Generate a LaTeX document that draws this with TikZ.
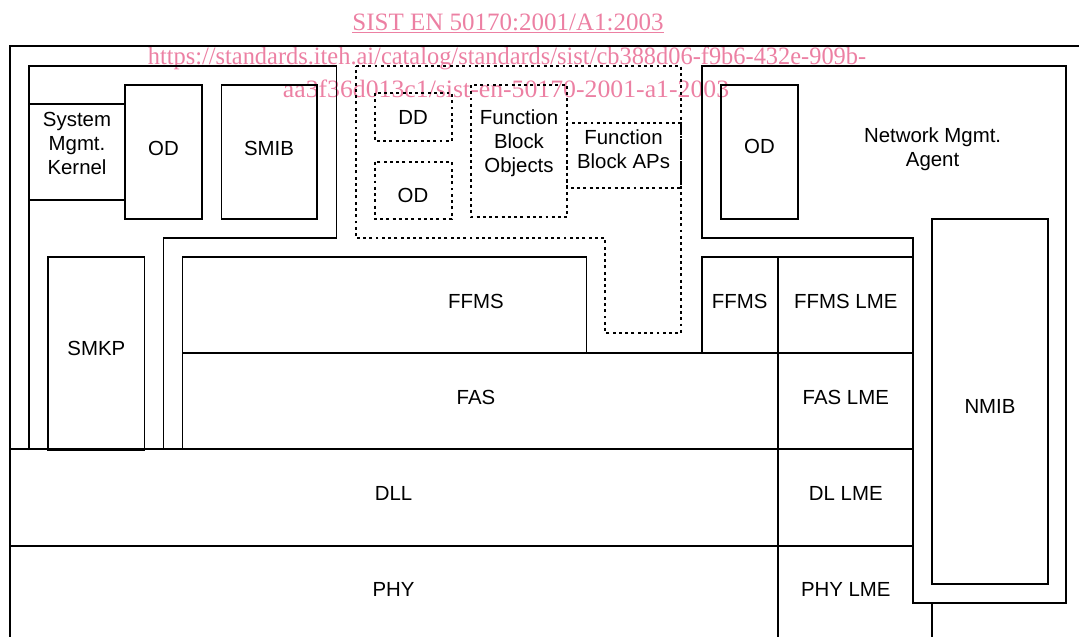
\documentclass[tikz,border=0pt]{standalone}
\usepackage{fontspec}
\setmainfont{Liberation Sans}
\newfontfamily\wmfont{Liberation Serif}
\definecolor{wmpink}{RGB}{236,128,163}
\begin{document}
\begin{tikzpicture}[x=0.75pt,y=-0.75pt,
  ln/.style={draw=black,line width=1.3pt},
  dl/.style={draw=black,line width=1.5pt,dash pattern=on 2.2pt off 2.5pt},
  lbl/.style={font=\fontsize{15.3}{18}\selectfont,inner sep=0pt,align=center},
  wm/.style={font=\wmfont\fontsize{18.75}{22}\selectfont,text=wmpink,inner sep=0pt,anchor=base}]
\useasboundingbox (0,0) rectangle (1079,636);
\clip (0,0) rectangle (1079,636);

% watermark
\node[wm] (w1) at (508,30) {SIST EN 50170:2001/A1:2003};
\draw[wmpink,line width=0.8pt] ([yshift=-1.6pt]w1.base west) -- ([yshift=-1.6pt]w1.base east);
\node[wm,xscale=0.976] (w2) at (507,64) {https://standards.iteh.ai/catalog/standards/sist/cb388d06-f9b6-432e-909b-};
\node[wm,xscale=1.03] (w3) at (506,97) {aa3f36d013c1/sist-en-50170-2001-a1-2003};

% outer frame
\draw[ln] (10,700) -- (10,45.7) -- (1100,45.7);

% system management
\draw[ln] (29,450) -- (29,66) -- (336.5,66) -- (336.5,238) -- (163.6,238) -- (163.6,450);
\draw[ln] (29,104) rectangle (125,200);
\draw[ln] (125,85) rectangle (202,219);
\draw[ln] (221.4,85) rectangle (317,219);
\draw[ln] (48.2,257.3) rectangle (144.6,450);

% function block application (dotted)
\draw[dl] (355.7,66) -- (681,66) -- (681,333.3) -- (605.4,333.3) -- (605.4,238.3) -- (355.7,238.3) -- cycle;
\draw[dl] (374.7,93) rectangle (451.8,141);
\draw[dl] (374.7,161.7) rectangle (451.8,219);
\draw[dl] (470.7,85) rectangle (567.4,217);
\draw[dl] (567.4,122.5) rectangle (681,188);

% stack
\draw[ln] (182.5,257.3) rectangle (586.5,353.3);
\draw[ln] (182.5,353.3) rectangle (778.3,449.3);
\draw[ln] (10,449.3) rectangle (778.3,545.7);
\draw[ln] (10,545.7) rectangle (778.3,700);
\draw[ln] (701.8,257.3) rectangle (778.3,353.3);
\draw[ln] (778.3,257.3) rectangle (912.9,353.3);
\draw[ln] (778.3,353.3) rectangle (912.9,449.3);
\draw[ln] (778.3,449.3) rectangle (912.9,545.7);
\draw[ln] (778.3,700) -- (778.3,545.7) -- (912.9,545.7);

% network management agent
\draw[ln] (701.8,238) -- (701.8,66) -- (1066,66) -- (1066,602.7) -- (912.9,602.7) -- (912.9,238) -- cycle;
\draw[ln] (720.8,85) rectangle (798.3,219);
\draw[ln] (931.7,219) rectangle (1047.8,584);
\draw[ln] (931.7,602.7) -- (931.7,700);

% labels
\node[lbl] (smk) at (77,143) {System\\Mgmt.\\Kernel};
\node[lbl] (oda) at (163.5,148) {OD};
\node[lbl] (smib) at (269,148) {SMIB};
\node[lbl] (dd) at (413,117) {DD};
\node[lbl] (odd) at (413,195) {OD};
\node[lbl] (fbo) at (519,143) {Function\\Block\\Objects};
\node[lbl] (fbap) at (623.5,149) {Function\\Block APs};
\node[lbl] (odr) at (759.5,146) {OD};
\node[lbl] (nma) at (932.6,149.5) {Network Mgmt.\\Agent};
\node[lbl] (smkp) at (96.4,348) {SMKP};
\node[lbl] (ffms) at (476,301) {FFMS};
\node[lbl] (fas) at (476,397) {FAS};
\node[lbl] (dll) at (393.6,493) {DLL};
\node[lbl] (phy) at (393.6,589) {PHY};
\node[lbl] (ffmss) at (739.7,301) {FFMS};
\node[lbl] (ffmslme) at (845.8,301) {FFMS LME};
\node[lbl] (faslme) at (845.8,397) {FAS LME};
\node[lbl] (dllme) at (845.8,493) {DL LME};
\node[lbl] (phylme) at (845.8,589) {PHY LME};
\node[lbl] (nmib) at (990,406) {NMIB};
\end{tikzpicture}
\end{document}
